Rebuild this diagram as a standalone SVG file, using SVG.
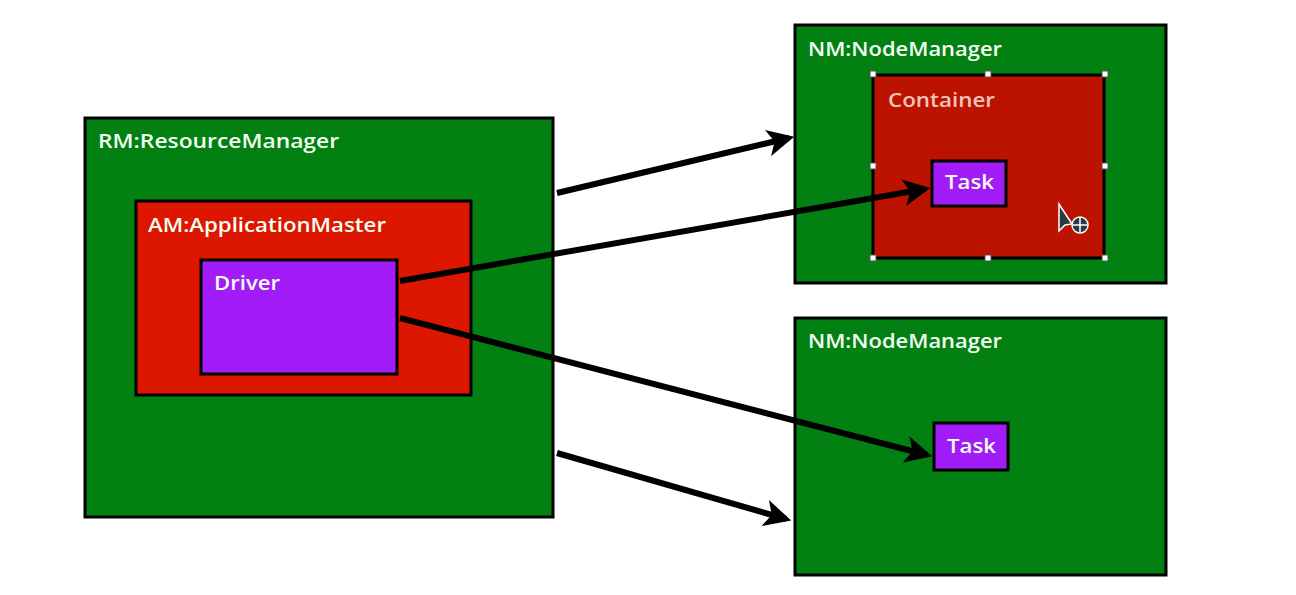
<svg xmlns="http://www.w3.org/2000/svg" width="1296" height="595" viewBox="0 0 1296 595">
<defs>
<style>
.green{fill:#038012;stroke:#000;stroke-width:3}
.red{fill:#dd1600;stroke:#000;stroke-width:3}
.dred{fill:#bb1300;stroke:#000;stroke-width:3}
.purple{fill:#a11cf6;stroke:#000;stroke-width:3}
.lbl{font-family:"Open Sans","Liberation Sans",sans-serif;font-weight:600;font-size:20px;fill:#f4fff4}
.conn{stroke:#000;stroke-width:6;fill:none;stroke-linecap:butt}
.handle{fill:#fff;stroke:#555;stroke-width:1}
</style>
<marker id="ah" viewBox="0 0 10 10" refX="8" refY="5" markerWidth="4.5" markerHeight="4.5" orient="auto" markerUnits="strokeWidth">
<path d="M0,0 L10,5 L0,10 L2.5,5 Z" fill="#000"/>
</marker>
</defs>
<rect width="1296" height="595" fill="#fff"/>

<g id="rm">
<rect class="green" x="85" y="118" width="468" height="399"/>
<text class="lbl" x="98" y="148" textLength="241" lengthAdjust="spacingAndGlyphs">RM:ResourceManager</text>
</g>
<g id="am">
<rect class="red" x="136" y="201" width="335" height="194"/>
<text class="lbl" x="148" y="232" textLength="238" lengthAdjust="spacingAndGlyphs">AM:ApplicationMaster</text>
</g>
<g id="driver">
<rect class="purple" x="201" y="260" width="196" height="114"/>
<text class="lbl" x="214" y="290" textLength="66" lengthAdjust="spacingAndGlyphs">Driver</text>
</g>

<g id="nm1">
<rect class="green" x="795" y="25" width="371" height="258"/>
<text class="lbl" x="808" y="56" textLength="194" lengthAdjust="spacingAndGlyphs">NM:NodeManager</text>
</g>
<g id="container">
<rect class="dred" x="873" y="75" width="231" height="183"/>
<text class="lbl" x="888" y="107" textLength="107" lengthAdjust="spacingAndGlyphs" style="fill:#f2c4b8">Container</text>
<g class="handles">
<rect class="handle" x="870" y="71" width="6" height="6"/>
<rect class="handle" x="985" y="71" width="6" height="6"/>
<rect class="handle" x="1102" y="71" width="6" height="6"/>
<rect class="handle" x="870" y="163" width="6" height="6"/>
<rect class="handle" x="1102" y="163" width="6" height="6"/>
<rect class="handle" x="870" y="255" width="6" height="6"/>
<rect class="handle" x="985" y="255" width="6" height="6"/>
<rect class="handle" x="1102" y="255" width="6" height="6"/>
</g>
<g id="cursor">
<path d="M1059,204 L1059,231 L1065,225 L1072,224 Z" fill="#2a3b44" stroke="#fff" stroke-width="1.5"/>
<circle cx="1080" cy="225" r="8" fill="#2a3b44" stroke="#fff" stroke-width="1.5"/>
<path d="M1080,218 L1080,232 M1073,225 L1087,225" stroke="#fff" stroke-width="1.5"/>
</g>
</g>
<g id="task1">
<rect class="purple" x="932" y="161" width="74" height="45"/>
<text class="lbl" x="945" y="189" textLength="49" lengthAdjust="spacingAndGlyphs">Task</text>
</g>

<g id="nm2">
<rect class="green" x="795" y="318" width="371" height="257"/>
<text class="lbl" x="808" y="348" textLength="194" lengthAdjust="spacingAndGlyphs">NM:NodeManager</text>
</g>
<g id="task2">
<rect class="purple" x="934" y="423" width="74" height="47"/>
<text class="lbl" x="947" y="453" textLength="49" lengthAdjust="spacingAndGlyphs">Task</text>
</g>

<g id="connectors">
<line class="conn" x1="557" y1="193" x2="789" y2="138" marker-end="url(#ah)"/>
<line class="conn" x1="400" y1="281" x2="925" y2="189" marker-end="url(#ah)"/>
<line class="conn" x1="400" y1="318" x2="927" y2="455" marker-end="url(#ah)"/>
<line class="conn" x1="557" y1="453" x2="786" y2="519" marker-end="url(#ah)"/>
</g>
</svg>
